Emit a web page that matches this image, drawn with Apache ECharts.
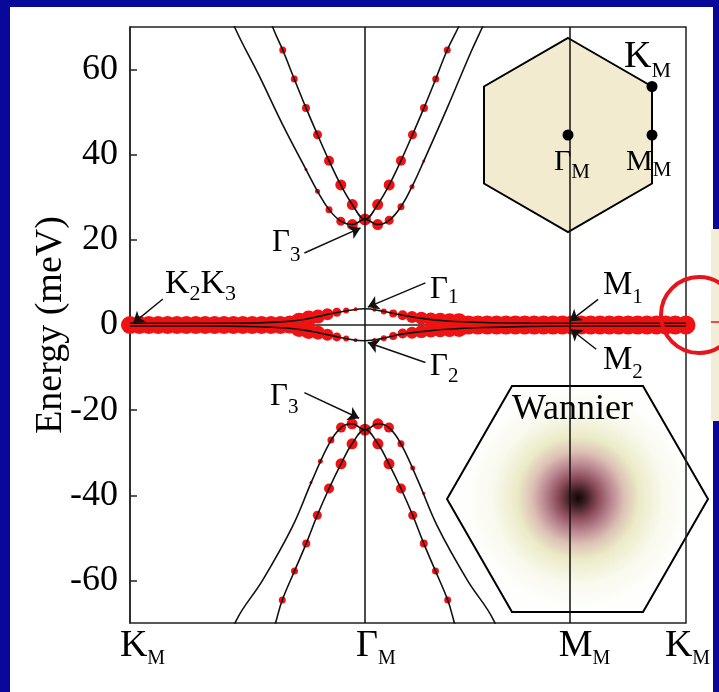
<!DOCTYPE html>
<html>
<head>
<meta charset="utf-8">
<script src="https://cdn.jsdelivr.net/npm/echarts@6/dist/echarts.min.js"></script>
<style>
html, body { margin: 0; padding: 0; background: #08089a; }
#bg { position: absolute; left: 10px; top: 7px; width: 703px; height: 685px; background: #fff; }
#panel { position: absolute; left: 711px; top: 229px; width: 8px; height: 192px; background: #f4edd5; }
#chart { position: absolute; left: 0; top: 0; width: 719px; height: 692px; }
</style>
</head>
<body>
<div id="bg"></div>
<div id="panel"></div>
<div id="chart"></div>
<script>
var SERIF = "'Liberation Serif', 'Times New Roman', serif";

// path K_M -> Γ_M -> M_M -> K_M, in units of |ΓK|
var xTicks = [0, 1, 1.866, 2.366];
var xTickMain = ['K', 'Γ', 'M', 'K'];
var yTicks = [-60, -40, -20, 0, 20, 40, 60];

// two flat bands near 0 meV
var flatUpper = [[0, 0.4], [0.3, 0.4], [0.55, 0.5], [0.66, 0.8], [0.74, 1.3], [0.80, 2.0], [0.86, 2.7], [0.93, 3.4], [1.0, 3.8],
  [1.07, 3.3], [1.15, 2.4], [1.25, 1.5], [1.35, 0.95], [1.5, 0.6], [1.7, 0.45], [1.866, 0.4], [2.1, 0.4], [2.366, 0.4]];
var flatLower = [[0, -0.2], [0.3, -0.2], [0.55, -0.4], [0.66, -0.7], [0.74, -1.2], [0.80, -1.8], [0.86, -2.5], [0.93, -3.3], [1.0, -3.7],
  [1.07, -3.2], [1.15, -2.2], [1.25, -1.5], [1.35, -1.0], [1.5, -0.6], [1.7, -0.35], [1.866, -0.25], [2.1, -0.2], [2.366, -0.2]];

// conduction bands
var condOuter = [[0.39, 78], [0.445, 70], [0.55, 58.5], [0.65, 47], [0.749, 36.5], [0.798, 31.4], [0.847, 27.1], [0.897, 24.4], [0.946, 23.6], [1.0, 24.8],
  [1.054, 23.6], [1.103, 24.6], [1.153, 27.8], [1.20, 32.5], [1.25, 38.5], [1.35, 51], [1.45, 64], [1.50, 70], [1.55, 76]];
var condInner = [[0.58, 75], [0.607, 70], [0.65, 64.6], [0.699, 57.8], [0.749, 51], [0.798, 44.7], [0.847, 38.6], [0.897, 32.9], [0.946, 28.3], [1.0, 24.8],
  [1.054, 28.3], [1.103, 32.9], [1.153, 38.6], [1.202, 44.7], [1.251, 51], [1.301, 57.8], [1.35, 64.6], [1.398, 70], [1.43, 74]];

// valence bands
var valOuter = [[0.40, -78], [0.453, -69.3], [0.564, -60], [0.69, -47.5], [0.775, -36.5], [0.847, -27.9], [0.898, -24.1], [0.945, -23.2], [1.0, -24.6],
  [1.055, -23.2], [1.102, -24.1], [1.153, -27.9], [1.225, -36.5], [1.31, -47.5], [1.436, -60], [1.547, -69.3], [1.60, -78]];
var valInner = [[0.59, -76], [0.623, -69.3], [0.648, -64.6], [0.70, -57.8], [0.75, -51.3], [0.797, -44.7], [0.847, -38.4], [0.898, -32.6], [0.945, -27.9], [1.0, -24.6],
  [1.055, -27.9], [1.102, -32.6], [1.153, -38.4], [1.203, -44.7], [1.25, -51.3], [1.30, -57.8], [1.352, -64.6], [1.377, -69.3], [1.41, -76]];

// projected weight: [k, E, dot size]
var dotsFlat = [
  [0, 0, 18], [0.04, 0, 18], [0.08, 0, 18], [0.12, 0, 18], [0.16, 0, 18], [0.20, 0, 18], [0.24, 0, 18], [0.28, 0, 18], [0.32, 0, 18],
  [0.36, 0, 18], [0.40, 0, 18], [0.44, 0, 18], [0.48, 0, 18], [0.52, 0, 18], [0.56, 0, 18], [0.60, 0, 18], [0.64, 0, 18], [0.68, 0.1, 18],
  [0.72, 0.9, 17], [0.76, 1.5, 16], [0.80, 2.0, 14], [0.84, 2.5, 12], [0.88, 3.0, 9], [0.92, 3.4, 6], [0.96, 3.7, 4],
  [0.72, -0.8, 17], [0.76, -1.4, 16], [0.80, -1.8, 14], [0.84, -2.3, 12], [0.88, -2.8, 9], [0.92, -3.2, 6], [0.96, -3.6, 4],
  [1.04, 3.6, 4], [1.08, 3.2, 6], [1.12, 2.7, 8], [1.16, 2.3, 10], [1.20, 1.9, 12], [1.24, 1.6, 13], [1.28, 1.3, 14], [1.32, 1.1, 15], [1.36, 0.9, 16], [1.40, 0.75, 17],
  [1.04, -3.5, 4], [1.08, -3.1, 6], [1.12, -2.6, 8], [1.16, -2.0, 10], [1.20, -1.8, 12], [1.24, -1.55, 13], [1.28, -1.3, 14], [1.32, -1.1, 15], [1.36, -0.95, 16], [1.40, -0.8, 17],
  [1.44, 0, 19], [1.48, 0, 19], [1.52, 0, 19], [1.56, 0, 19], [1.60, 0, 19], [1.64, 0, 19], [1.68, 0, 19], [1.72, 0, 19], [1.76, 0, 19],
  [1.80, 0, 19], [1.84, 0, 19], [1.88, 0, 19], [1.92, 0, 19], [1.96, 0, 19], [2.00, 0, 19], [2.04, 0, 19], [2.08, 0, 19], [2.12, 0, 19],
  [2.16, 0, 19], [2.20, 0, 19], [2.24, 0, 19], [2.28, 0, 19], [2.32, 0, 19], [2.366, 0, 19]
];
var dotsCond = [
  [0.65, 64.6, 7], [0.699, 57.8, 7], [0.749, 51, 8], [0.798, 44.7, 9], [0.847, 38.6, 10], [0.897, 32.9, 11], [0.946, 28.3, 11],
  [0.749, 36.5, 3], [0.798, 31.4, 5], [0.847, 27.1, 7], [0.897, 24.4, 9], [0.946, 23.6, 11],
  [1.0, 24.8, 12],
  [1.054, 23.6, 11], [1.103, 24.6, 9], [1.153, 27.8, 7], [1.20, 32.5, 5], [1.25, 38.5, 3],
  [1.054, 28.3, 11], [1.103, 32.9, 11], [1.153, 38.6, 10], [1.202, 44.7, 9], [1.251, 51, 8], [1.301, 57.8, 7], [1.35, 64.6, 7]
];
var dotsVal = [
  [0.648, -64.6, 7], [0.70, -57.8, 7], [0.75, -51.3, 8], [0.797, -44.7, 9], [0.847, -38.4, 10], [0.898, -32.6, 11], [0.945, -27.9, 11],
  [0.77, -37, 3], [0.81, -32, 5], [0.855, -27, 7], [0.898, -24.1, 10], [0.945, -23.2, 11],
  [1.0, -24.6, 12],
  [1.055, -23.2, 11], [1.102, -24.1, 10], [1.153, -27.9, 7], [1.203, -33.6, 5], [1.25, -39.5, 3],
  [1.055, -27.9, 11], [1.102, -32.6, 11], [1.153, -38.4, 10], [1.203, -44.7, 9], [1.25, -51.3, 8], [1.30, -57.8, 7], [1.352, -64.6, 7]
];

// label with a subscript, placed by the top of its capital letter
function note(left, capTop, parts, fm, fs, drop) {
  var P = 2 * (drop + 0.3375 * (fm - fs));
  var H = Math.max(fm, fs + P);
  var txt = parts.map(function (p, i) { return '{' + (i % 2 ? 's' : 'm') + '|' + p + '}'; }).join('');
  return {
    type: 'text', x: left, y: capTop - H / 2 + 0.325 * fm, z: 50, silent: true,
    style: {
      text: txt, align: 'left', verticalAlign: 'top',
      rich: {
        m: { fontSize: fm, fontFamily: SERIF, fill: '#000' },
        s: { fontSize: fs, fontFamily: SERIF, fill: '#000', padding: [P, 0, 0, 0] }
      }
    }
  };
}

function bandLine(data) {
  return {
    type: 'line', data: data, smooth: 0.4, symbol: 'none', z: 3, silent: true,
    lineStyle: { color: '#111', width: 1.6 }
  };
}
function dots(data) {
  return {
    type: 'scatter', data: data, z: 2, clip: false, silent: true,
    symbolSize: function (d) { return d[2]; },
    itemStyle: { color: '#f01212', opacity: 1 }
  };
}

function arrow(from, to) {
  return [{ coord: from, symbol: 'none' }, { coord: to, symbol: 'arrow', symbolSize: 11 }];
}

var chart = echarts.init(document.getElementById('chart'), null, { renderer: 'canvas' });

var xSub = 26;
var option = {
  backgroundColor: 'transparent',
  animation: false,
  grid: {
    left: 130, top: 27, width: 556, height: 596,
    show: true, borderColor: '#222', borderWidth: 1.5, backgroundColor: 'transparent',
    outerBoundsMode: 'none', containLabel: false
  },
  xAxis: {
    type: 'value', min: 0, max: 2.366,
    axisLine: { show: true, lineStyle: { color: '#222', width: 1.5 } },
    axisTick: { show: false },
    splitLine: { show: false },
    axisLabel: {
      customValues: xTicks, margin: 0,
      formatter: function (v) {
        var i = xTicks.findIndex(function (t) { return Math.abs(t - v) < 1e-6; });
        return '{k' + i + '|' + xTickMain[i] + '}{s|M}';
      },
      rich: {
        k0: { fontSize: 38, fontFamily: SERIF, color: '#000', padding: [0, 0, 0, 25] },
        k1: { fontSize: 38, fontFamily: SERIF, color: '#000', padding: [0, 0, 0, 22] },
        k2: { fontSize: 38, fontFamily: SERIF, color: '#000', padding: [0, 0, 0, 32] },
        k3: { fontSize: 38, fontFamily: SERIF, color: '#000', padding: [0, 0, 0, 3] },
        s: { fontSize: 20, fontFamily: SERIF, color: '#000', padding: [xSub, 0, 0, 0] }
      }
    }
  },
  yAxis: {
    type: 'value', min: -70, max: 70,
    name: 'Energy (meV)', nameLocation: 'middle', nameGap: 60, nameMoveOverlap: false,
    nameTextStyle: { fontSize: 38, fontFamily: SERIF, color: '#000' },
    axisLine: { show: true, lineStyle: { color: '#222', width: 1.5 } },
    axisTick: { show: true, inside: true, length: 7, customValues: yTicks, lineStyle: { color: '#222', width: 1.5 } },
    splitLine: { show: false },
    axisLabel: { customValues: yTicks, margin: 12, fontSize: 36, fontFamily: SERIF, color: '#000' }
  },
  series: [
    dots(dotsFlat), dots(dotsCond), dots(dotsVal),
    bandLine(flatUpper), bandLine(flatLower),
    bandLine(condOuter), bandLine(condInner),
    bandLine(valOuter), bandLine(valInner),
    {
      type: 'line', data: [], z: 4, silent: true,
      markLine: {
        silent: true, animation: false, symbol: ['none', 'none'],
        label: { show: false },
        lineStyle: { color: '#111', width: 1.5, type: 'solid' },
        data: [
          { xAxis: 1 }, { xAxis: 1.866 },
          arrow([0.14, 6.1], [0.013, 0.4]),
          arrow([1.257, 9.9], [1.012, 4.2]),
          arrow([1.257, -8.8], [1.012, -4.1]),
          arrow([0.742, 16.9], [0.981, 22.8]),
          arrow([0.742, -15.9], [0.975, -21.9]),
          arrow([1.992, 6.0], [1.872, 0.9]),
          arrow([1.984, -5.7], [1.875, -1.0])
        ]
      }
    }
  ],
  graphic: [
    // Brillouin zone sketch
    { type: 'polygon', z: -1, silent: true,
      shape: { points: [[568, 38], [652, 86.5], [652, 183.5], [568, 232], [484, 183.5], [484, 86.5]] },
      style: { fill: '#f3ebd0', stroke: '#000', lineWidth: 2 } },
    { type: 'circle', z: 10, silent: true, shape: { cx: 568, cy: 135, r: 5.5 }, style: { fill: '#000' } },
    { type: 'circle', z: 10, silent: true, shape: { cx: 652, cy: 135, r: 5.5 }, style: { fill: '#000' } },
    { type: 'circle', z: 10, silent: true, shape: { cx: 652, cy: 86.5, r: 5.5 }, style: { fill: '#000' } },
    note(624, 45, ['K', 'M'], 38, 22, 8),
    note(554, 152, ['Γ', 'M'], 30, 21, 8),
    note(626, 152, ['M', 'M'], 30, 21, 6),
    // Wannier function sketch
    { type: 'polygon', z: -1, silent: true,
      shape: { points: [[512, 386], [643, 386], [708, 499], [643, 612], [512, 612], [447, 499]] },
      style: {
        stroke: '#000', lineWidth: 2,
        fill: { type: 'radial', x: 578, y: 498, r: 110, global: true, colorStops: [
          { offset: 0, color: '#0d0505' }, { offset: 0.07, color: '#3a1c20' }, { offset: 0.18, color: '#8a4a58' },
          { offset: 0.3, color: '#b98590' }, { offset: 0.42, color: '#dcc0b4' }, { offset: 0.56, color: '#ebebc8' },
          { offset: 0.78, color: '#f9f9ee' }, { offset: 1, color: '#fefefc' }] }
      } },
    { type: 'text', x: 512, y: 392, z: 50, silent: true,
      style: { text: 'Wannier', fontSize: 36, fontFamily: SERIF, fill: '#000', align: 'left', verticalAlign: 'top' } },
    // band labels
    note(165, 273, ['K', '2', 'K', '3'], 34, 22, 6),
    note(430, 280, ['Γ', '1'], 31, 21, 4),
    note(430, 357, ['Γ', '2'], 31, 21, 6),
    note(272, 233, ['Γ', '3'], 31, 21, 9),
    note(270, 387, ['Γ', '3'], 31, 21, 7),
    note(603, 275, ['M', '1'], 33, 21, 8),
    note(603, 350, ['M', '2'], 33, 21, 8),
    // highlight circle and neighbouring panel mark
    { type: 'line', z: 90, silent: true, shape: { x1: 711, y1: 322, x2: 719, y2: 322 }, style: { stroke: '#e8141c', lineWidth: 1.5 } },
    { type: 'circle', z: 100, silent: true, shape: { cx: 699, cy: 315, r: 38 }, style: { fill: 'none', stroke: '#e8141c', lineWidth: 4 } }
  ]
};

chart.setOption(option);
</script>
</body>
</html>
